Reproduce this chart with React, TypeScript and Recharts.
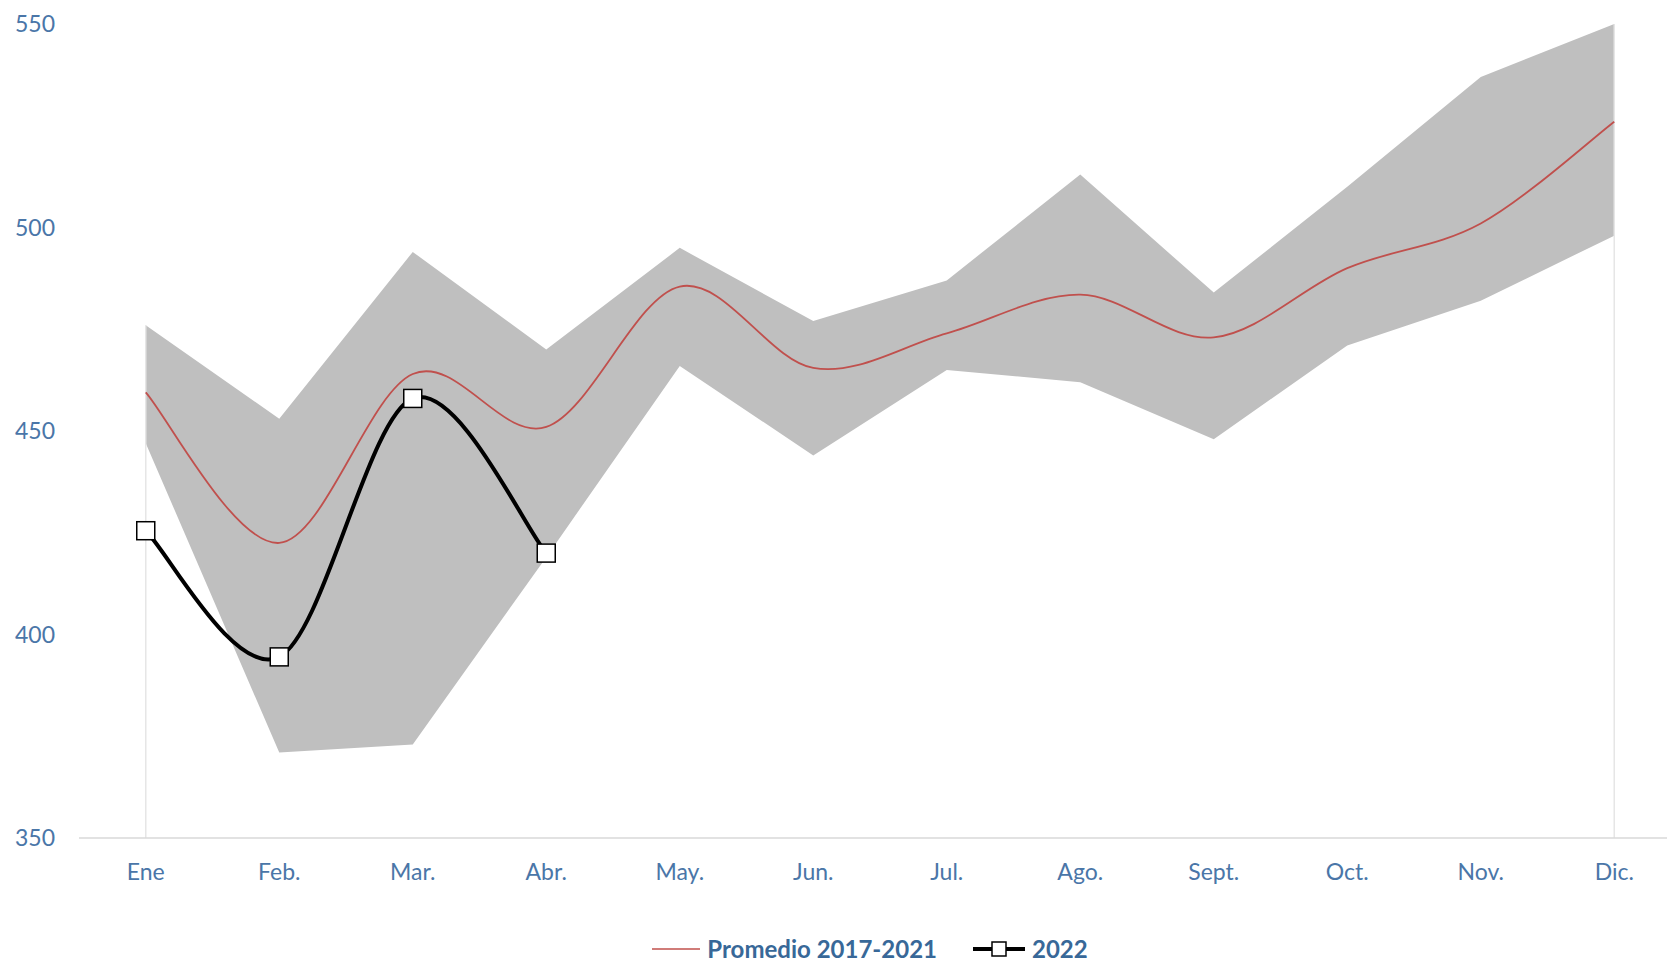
import { ComposedChart, Area, Line, XAxis, YAxis, Legend, ReferenceLine } from 'recharts';

// valores
const meses = ['Ene', 'Feb.', 'Mar.', 'Abr.', 'May.', 'Jun.', 'Jul.', 'Ago.', 'Sept.', 'Oct.', 'Nov.', 'Dic.'];
const maximo = [476, 453, 494, 470, 495, 477, 487, 513, 484, 510, 537, 550];
const minimo = [447, 371, 373, 419, 466, 444, 465, 462, 448, 471, 482, 498];
const promedio = [459.5, 422.5, 464, 451, 485.5, 465.5, 474, 483.5, 473, 490, 501, 526];
const anio2022 = [425.5, 394.5, 458, 420];
const ticksY = [350, 400, 450, 500, 550];
const ordenLeyenda = ['promedio', 'actual'];

const data = meses.map((mes, i) => ({
  mes,
  rango: [minimo[i], maximo[i]],
  promedio: promedio[i],
  actual: i < anio2022.length ? anio2022[i] : null,
}));

const AZUL = '#4a76a8';
const FUENTE = 'Lato, "Open Sans", sans-serif';

// suavizado tipo Excel (Catmull-Rom con tangentes a 1/6)
const suaveExcel = (ctx: any) => {
  let pts: number[][] = [];
  return {
    areaStart() {},
    areaEnd() {},
    lineStart() {
      pts = [];
    },
    point(x: number, y: number) {
      pts.push([+x, +y]);
    },
    lineEnd() {
      if (!pts.length) return;
      ctx.moveTo(pts[0][0], pts[0][1]);
      for (let i = 0; i < pts.length - 1; i++) {
        const p0 = pts[i - 1] || pts[i];
        const p1 = pts[i];
        const p2 = pts[i + 1];
        const p3 = pts[i + 2] || p2;
        ctx.bezierCurveTo(
          p1[0] + (p2[0] - p0[0]) / 6,
          p1[1] + (p2[1] - p0[1]) / 6,
          p2[0] - (p3[0] - p1[0]) / 6,
          p2[1] - (p3[1] - p1[1]) / 6,
          p2[0],
          p2[1]
        );
      }
    },
  };
};

const Cuadro = (props: any) => {
  const { cx, cy, index } = props;
  if (cx == null || cy == null) return <g key={`c-${index}`} />;
  return (
    <rect key={`c-${index}`} x={cx - 9} y={cy - 9} width={18} height={18} fill="#fff" stroke="#000" strokeWidth={1.5} />
  );
};

const renderLeyenda = (props: any) => {
  const items = ordenLeyenda
    .map((k) => (props.payload || []).find((p: any) => p.dataKey === k))
    .filter(Boolean);
  return (
    <div style={{ display: 'flex', justifyContent: 'center', alignItems: 'center', height: 28, lineHeight: '28px', fontFamily: FUENTE, fontWeight: 700, fontSize: 24, color: '#386898' }}>
      {items.map((p: any) => (
        <div key={p.dataKey} style={{ display: 'flex', alignItems: 'center', marginRight: p.dataKey === 'promedio' ? 36 : 0 }}>
          {p.dataKey === 'promedio' ? (
            <svg width={48} height={24}>
              <line x1={0} y1={12} x2={48} y2={12} stroke="#c0504d" strokeWidth={1.5} />
            </svg>
          ) : (
            <svg width={52} height={24}>
              <line x1={0} y1={12} x2={52} y2={12} stroke="#000" strokeWidth={4} />
              <rect x={19} y={5} width={14} height={14} fill="#fff" stroke="#000" strokeWidth={1.5} />
            </svg>
          )}
          <span style={{ marginLeft: 7 }}>{p.value}</span>
        </div>
      ))}
    </div>
  );
};

export default function App() {
  return (
    <div style={{ position: 'absolute', left: 0, top: 0, width: 1667, height: 963, overflow: 'hidden', background: '#fff' }}>
      <ComposedChart width={1681} height={963} data={data} margin={{ top: 24, right: 0, left: 19, bottom: 0 }}>
        <XAxis
          dataKey="mes"
          scale="band"
          height={97}
          tickLine={false}
          tickSize={0}
          tickMargin={26}
          axisLine={{ stroke: '#d9d9d9', strokeWidth: 1.5 }}
          tick={{ fill: AZUL, fontSize: 23, fontFamily: FUENTE }}
          interval={0}
        />
        <YAxis
          width={60}
          domain={[350, 550]}
          ticks={ticksY}
          axisLine={false}
          tickLine={false}
          tickSize={0}
          tickMargin={24}
          tick={{ fill: AZUL, fontSize: 23, fontFamily: FUENTE }}
        />
        <ReferenceLine segment={[{ x: 'Ene', y: 350 }, { x: 'Ene', y: maximo[0] }]} stroke="#e6e6e6" strokeWidth={1.5} />
        <ReferenceLine segment={[{ x: 'Dic.', y: 350 }, { x: 'Dic.', y: maximo[11] }]} stroke="#e6e6e6" strokeWidth={1.5} />
        <Area
          dataKey="rango"
          name="Rango 2017-2021"
          type="linear"
          stroke="none"
          fill="#bfbfbf"
          fillOpacity={1}
          legendType="none"
          isAnimationActive={false}
        />
        <Line
          dataKey="promedio"
          name="Promedio 2017-2021"
          type={suaveExcel as any}
          stroke="#c0504d"
          strokeWidth={1.8}
          dot={false}
          activeDot={false}
          isAnimationActive={false}
        />
        <Line
          dataKey="actual"
          name="2022"
          type={suaveExcel as any}
          stroke="#000"
          strokeWidth={4}
          dot={Cuadro}
          activeDot={false}
          isAnimationActive={false}
        />
        <Legend verticalAlign="bottom" content={renderLeyenda} wrapperStyle={{ left: 0, width: 1740, height: 28 }} />
      </ComposedChart>
    </div>
  );
}
